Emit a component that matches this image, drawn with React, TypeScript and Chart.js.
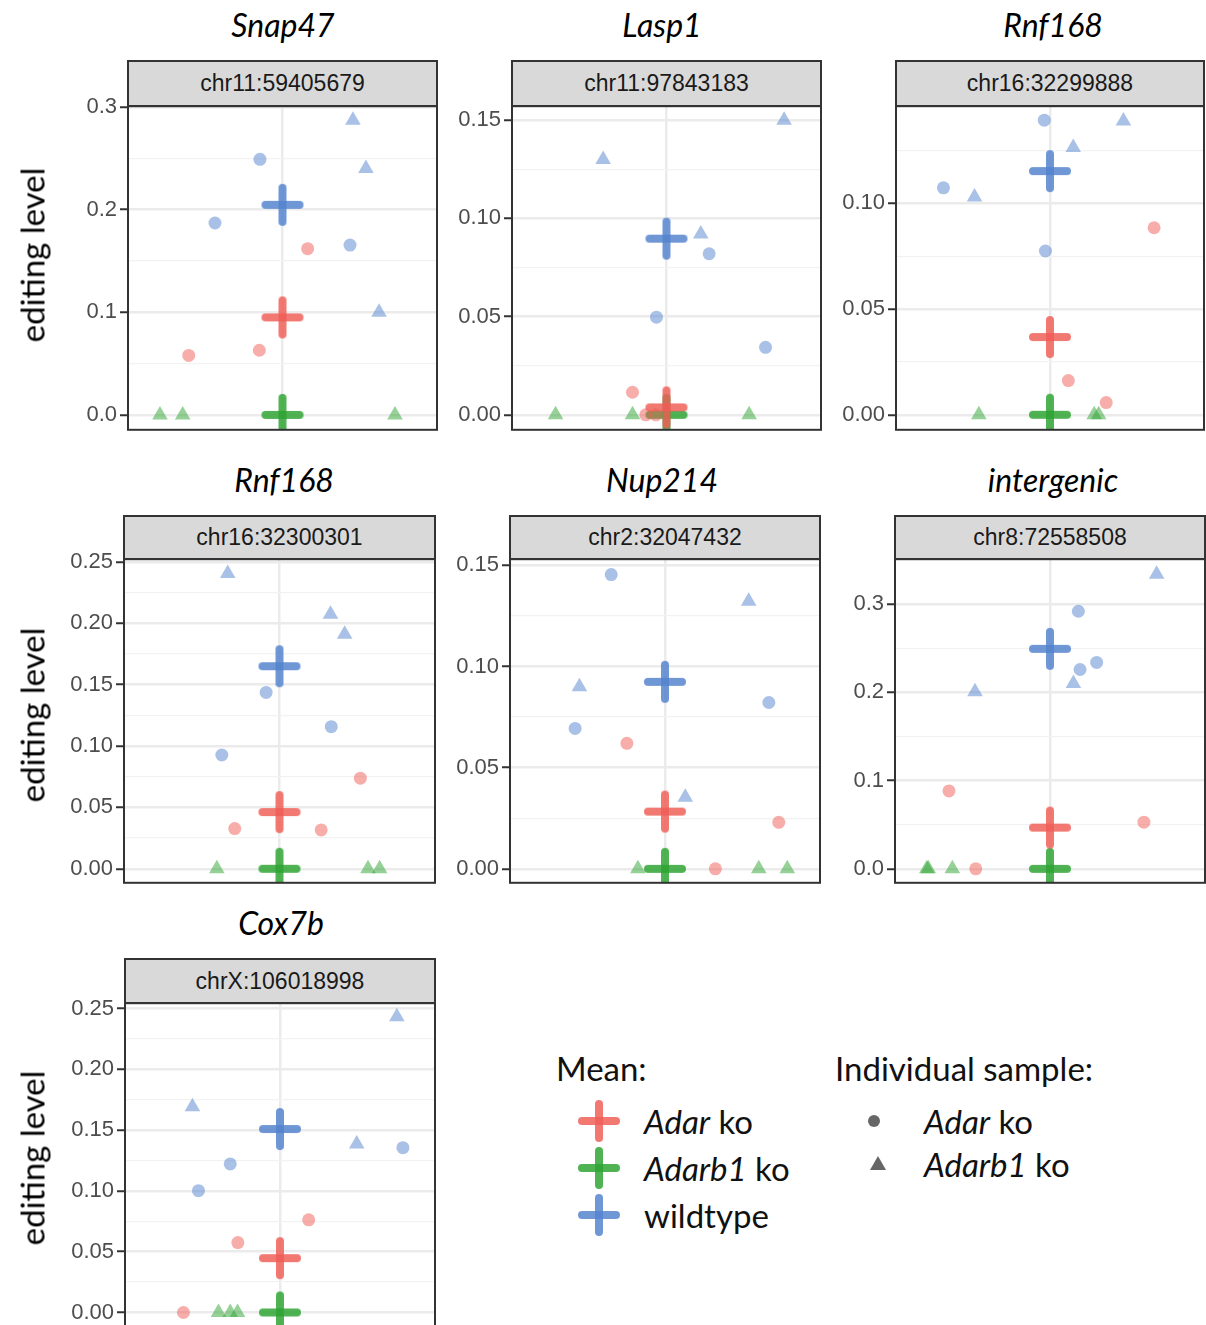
import React, { useEffect, useRef } from "react";
import { Chart, registerables } from "chart.js";

Chart.register(...registerables);

// ---------- data: [jitter position, editing level] ----------
const snap47AdarCircles = [[-0.607, 0.058], [-0.15, 0.063], [0.163, 0.162]];
const snap47WtCircles = [[-0.146, 0.249], [-0.437, 0.187], [0.437, 0.1655]];
const snap47WtTriangles = [[0.456, 0.287], [0.54, 0.24], [0.625, 0.1]];
const snap47Adarb1Triangles = [[-0.793, 0], [-0.646, 0], [0.728, 0]];
const snap47Means = [0.095, 0, 0.2047];

const lasp1AdarCircles = [[-0.22, 0.0115], [-0.134, 0], [-0.069, 0]];
const lasp1WtCircles = [[0.276, 0.082], [-0.065, 0.0497], [0.641, 0.0344]];
const lasp1WtTriangles = [[0.761, 0.15], [-0.41, 0.13], [0.222, 0.092]];
const lasp1Adarb1Triangles = [[-0.718, 0], [-0.22, 0], [0.535, 0]];
const lasp1Means = [0.0038, 0, 0.0897];

const rnf168aAdarCircles = [[0.676, 0.0885], [0.119, 0.0162], [0.365, 0.0058]];
const rnf168aWtCircles = [[-0.037, 0.1394], [-0.692, 0.1074], [-0.03, 0.0775]];
const rnf168aWtTriangles = [[0.477, 0.139], [0.151, 0.1265], [-0.49, 0.1031]];
const rnf168aAdarb1Triangles = [[-0.462, 0], [0.287, 0], [0.316, 0]];
const rnf168aMeans = [0.0368, 0, 0.1153];

const rnf168bAdarCircles = [[0.52, 0.0738], [-0.288, 0.0328], [0.268, 0.0317]];
const rnf168bWtCircles = [[-0.086, 0.1437], [0.333, 0.1158], [-0.371, 0.0927]];
const rnf168bWtTriangles = [[-0.333, 0.2405], [0.328, 0.2074], [0.419, 0.191]];
const rnf168bAdarb1Triangles = [[-0.403, 0], [0.569, 0], [0.644, 0]];
const rnf168bMeans = [0.0462, 0, 0.165];

const nup214AdarCircles = [[-0.246, 0.062], [0.734, 0.023], [0.325, 0]];
const nup214WtCircles = [[-0.347, 0.1454], [0.67, 0.0822], [-0.58, 0.0694]];
const nup214WtTriangles = [[0.54, 0.1322], [-0.552, 0.09], [0.131, 0.0354]];
const nup214Adarb1Triangles = [[-0.175, 0], [0.605, 0], [0.789, 0]];
const nup214Means = [0.0283, 0, 0.0924];

const intergenicAdarCircles = [[-0.652, 0.0883], [0.606, 0.0529], [-0.479, 0]];
const intergenicWtCircles = [[0.183, 0.292], [0.301, 0.234], [0.194, 0.226]];
const intergenicWtTriangles = [[0.688, 0.334], [0.151, 0.21], [-0.484, 0.2007]];
const intergenicAdarb1Triangles = [[-0.795, 0], [-0.785, 0], [-0.63, 0]];
const intergenicMeans = [0.0468, 0, 0.2494];

const cox7bAdarCircles = [[0.185, 0.0762], [-0.272, 0.0575], [-0.623, 0]];
const cox7bWtCircles = [[0.793, 0.1356], [-0.321, 0.1222], [-0.526, 0.1002]];
const cox7bWtTriangles = [[0.754, 0.2432], [-0.565, 0.1692], [0.495, 0.1386]];
const cox7bAdarb1Triangles = [[-0.397, 0], [-0.321, 0], [-0.274, 0]];
const cox7bMeans = [0.0447, 0, 0.1509];

// ---------- axes ----------
const ticks1dec = [0, 0.1, 0.2, 0.3];
const labels1dec = ["0.0", "0.1", "0.2", "0.3"];
const minor1dec = [0.05, 0.15, 0.25];
const ticks015 = [0, 0.05, 0.1, 0.15];
const labels015 = ["0.00", "0.05", "0.10", "0.15"];
const minor015 = [0.025, 0.075, 0.125];
const ticks010 = [0, 0.05, 0.1];
const labels010 = ["0.00", "0.05", "0.10"];
const minor010 = [0.025, 0.075, 0.125];
const ticks025 = [0, 0.05, 0.1, 0.15, 0.2, 0.25];
const labels025 = ["0.00", "0.05", "0.10", "0.15", "0.20", "0.25"];
const minor025 = [0.025, 0.075, 0.125, 0.175, 0.225];

const geneTitles = ["Snap47", "Lasp1", "Rnf168", "Rnf168", "Nup214", "intergenic", "Cox7b"];
const siteLabels = [
  "chr11:59405679", "chr11:97843183", "chr16:32299888",
  "chr16:32300301", "chr2:32047432", "chr8:72558508", "chrX:106018998",
];

const RED = [239, 94, 87];
const GREEN = [45, 163, 50];
const BLUE = [83, 131, 206];
const rgba = (c: number[], a: number) => `rgba(${c[0]},${c[1]},${c[2]},${a})`;

const AXW = 80;
const PAD = 16;
const PADR = 2;

type PanelCfg = {
  title: string; site: string;
  titleX: number; titleY: number;
  left: number; top: number; right: number; bottom: number; stripTop: number;
  yMin: number; yMax: number;
  major: number[]; labels: string[]; minor: number[];
  adar: number[][]; wtC: number[][]; wtT: number[][]; adarb1: number[][]; means: number[];
};

const panels: PanelCfg[] = [
  { title: geneTitles[0], site: siteLabels[0], titleX: 283, titleY: 25, left: 128, top: 106, right: 437, bottom: 430, stripTop: 60,
    yMin: -0.0145, yMax: 0.3008, major: ticks1dec, labels: labels1dec, minor: minor1dec,
    adar: snap47AdarCircles, wtC: snap47WtCircles, wtT: snap47WtTriangles, adarb1: snap47Adarb1Triangles, means: snap47Means },
  { title: geneTitles[1], site: siteLabels[1], titleX: 662, titleY: 25, left: 512, top: 106, right: 821, bottom: 430, stripTop: 60,
    yMin: -0.0076, yMax: 0.1571, major: ticks015, labels: labels015, minor: minor015,
    adar: lasp1AdarCircles, wtC: lasp1WtCircles, wtT: lasp1WtTriangles, adarb1: lasp1Adarb1Triangles, means: lasp1Means },
  { title: geneTitles[2], site: siteLabels[2], titleX: 1053, titleY: 25, left: 896, top: 106, right: 1204, bottom: 430, stripTop: 60,
    yMin: -0.0071, yMax: 0.146, major: ticks010, labels: labels010, minor: minor010,
    adar: rnf168aAdarCircles, wtC: rnf168aWtCircles, wtT: rnf168aWtTriangles, adarb1: rnf168aAdarb1Triangles, means: rnf168aMeans },
  { title: geneTitles[3], site: siteLabels[3], titleX: 284, titleY: 480, left: 124, top: 559, right: 435, bottom: 883, stripTop: 515,
    yMin: -0.0114, yMax: 0.2522, major: ticks025, labels: labels025, minor: minor025,
    adar: rnf168bAdarCircles, wtC: rnf168bWtCircles, wtT: rnf168bWtTriangles, adarb1: rnf168bAdarb1Triangles, means: rnf168bMeans },
  { title: geneTitles[4], site: siteLabels[4], titleX: 662, titleY: 480, left: 510, top: 559, right: 820, bottom: 883, stripTop: 515,
    yMin: -0.0069, yMax: 0.153, major: ticks015, labels: labels015, minor: minor015,
    adar: nup214AdarCircles, wtC: nup214WtCircles, wtT: nup214WtTriangles, adarb1: nup214Adarb1Triangles, means: nup214Means },
  { title: geneTitles[5], site: siteLabels[5], titleX: 1053, titleY: 480, left: 895, top: 559, right: 1205, bottom: 883, stripTop: 515,
    yMin: -0.0158, yMax: 0.351, major: ticks1dec, labels: labels1dec, minor: minor1dec,
    adar: intergenicAdarCircles, wtC: intergenicWtCircles, wtT: intergenicWtTriangles, adarb1: intergenicAdarb1Triangles, means: intergenicMeans },
  { title: geneTitles[6], site: siteLabels[6], titleX: 281, titleY: 923, left: 125, top: 1003, right: 435, bottom: 1328, stripTop: 958,
    yMin: -0.0126, yMax: 0.2544, major: ticks025, labels: labels025, minor: minor025,
    adar: cox7bAdarCircles, wtC: cox7bWtCircles, wtT: cox7bWtTriangles, adarb1: cox7bAdarb1Triangles, means: cox7bMeans },
];

function makeCross(c: number[]) {
  const cv = document.createElement("canvas");
  cv.width = 44; cv.height = 44;
  const ctx = cv.getContext("2d")!;
  ctx.lineCap = "round";
  ctx.lineWidth = 8;
  ctx.strokeStyle = rgba(c, 0.84);
  ctx.beginPath(); ctx.moveTo(5, 22); ctx.lineTo(39, 22); ctx.stroke();
  ctx.beginPath(); ctx.moveTo(22, 5); ctx.lineTo(22, 39); ctx.stroke();
  return cv;
}

const framePlugin = {
  id: "frame",
  afterDraw(chart: any) {
    const { ctx, chartArea: a } = chart;
    ctx.save();
    ctx.strokeStyle = "#333333";
    ctx.lineWidth = 2;
    ctx.strokeRect(a.left, a.top, a.right - a.left, a.bottom - a.top);
    ctx.restore();
  },
};

function Panel({ p }: { p: PanelCfg }) {
  const ref = useRef<HTMLCanvasElement>(null);
  const plotW = p.right - p.left;
  const plotH = p.bottom - p.top;
  const cw = AXW + plotW + PADR;
  const ch = plotH + 2 * PAD;

  useEffect(() => {
    const isMajor = (v: number) => p.major.some((m) => Math.abs(m - v) < 1e-9);
    const allTicks = [...p.major, ...p.minor].sort((a, b) => a - b);
    const toPts = (arr: number[][]) => arr.map((d) => ({ x: d[0], y: d[1] }));
    const pointDs = (arr: number[][], c: number[], style: string, r: number) => ({
      data: toPts(arr), pointStyle: style, pointRadius: r,
      backgroundColor: rgba(c, 0.5), borderWidth: 0, clip: 0,
    });
    const meanDs = (v: number, c: number[]) => ({
      data: [{ x: 0, y: v }], pointStyle: makeCross(c), pointRadius: 20,
      backgroundColor: rgba(c, 0.84), borderWidth: 0, clip: 0,
    });
    const chart = new Chart(ref.current!, {
      type: "scatter",
      data: {
        datasets: [
          pointDs(p.adar, RED, "circle", 6.5),
          pointDs(p.adarb1, GREEN, "triangle", 9),
          pointDs(p.wtC, BLUE, "circle", 6.5),
          pointDs(p.wtT, BLUE, "triangle", 9),
          meanDs(p.means[0], RED),
          meanDs(p.means[1], GREEN),
          meanDs(p.means[2], BLUE),
        ] as any,
      },
      options: {
        animation: false,
        responsive: false,
        events: [],
        layout: { autoPadding: false, padding: { left: 0, right: PADR, top: PAD, bottom: PAD } },
        plugins: { legend: { display: false }, tooltip: { enabled: false } },
        scales: {
          x: {
            type: "linear", min: -1, max: 1,
            afterBuildTicks: (s: any) => { s.ticks = [{ value: 0 }]; },
            afterFit: (s: any) => { s.height = 0; },
            ticks: { display: false },
            grid: { color: "#ebebeb", lineWidth: 2.5, drawTicks: false },
            border: { display: false },
          },
          y: {
            type: "linear", min: p.yMin, max: p.yMax,
            afterBuildTicks: (s: any) => { s.ticks = allTicks.map((v) => ({ value: v })); },
            afterFit: (s: any) => { s.width = AXW; },
            ticks: {
              autoSkip: false, padding: 3, color: "#4d4d4d",
              font: { family: "'Liberation Sans', Arial, sans-serif", size: 22 },
              callback: (v: any) => {
                const i = p.major.findIndex((m) => Math.abs(m - v) < 1e-9);
                return i >= 0 ? p.labels[i] : "";
              },
            },
            grid: {
              color: (c: any) => (isMajor(c.tick.value) ? "#ebebeb" : "#f2f2f2"),
              lineWidth: (c: any) => (isMajor(c.tick.value) ? 2.5 : 1.3),
              tickColor: (c: any) => (isMajor(c.tick.value) ? "#333333" : "rgba(0,0,0,0)"),
              tickWidth: 2,
              tickLength: 8,
              drawTicks: true,
            },
            border: { display: false },
          },
        },
      } as any,
      plugins: [framePlugin],
    });
    return () => chart.destroy();
  }, []);

  return (
    <>
      <div style={{
        position: "absolute", left: p.titleX, top: p.titleY, transform: "translate(-50%,-50%)",
        font: "italic 32px Lato, sans-serif", lineHeight: 1, whiteSpace: "nowrap", color: "#000",
      }}>{p.title}</div>
      <canvas ref={ref} width={cw} height={ch} style={{
        position: "absolute", left: p.left - AXW, top: p.top - PAD, width: cw, height: ch,
      }} />
      <div style={{
        position: "absolute", left: p.left - 1, top: p.stripTop, width: plotW + 2, height: p.top - p.stripTop + 1,
        boxSizing: "border-box", background: "#d9d9d9", border: "2px solid #333333",
        display: "flex", alignItems: "center", justifyContent: "center",
        font: "23px 'Liberation Sans', Arial, sans-serif", color: "#1a1a1a",
      }}>{p.site}</div>
    </>
  );
}

function LegendCross({ cx, cy, c }: { cx: number; cy: number; c: number[] }) {
  const col = rgba(c, 0.84);
  return (
    <>
      <div style={{ position: "absolute", left: cx - 21, top: cy - 4, width: 42, height: 8, borderRadius: 4, background: col }} />
      <div style={{ position: "absolute", left: cx - 4, top: cy - 21, width: 8, height: 42, borderRadius: 4, background: col }} />
    </>
  );
}

const legendFont = "33px Lato, sans-serif";
function LegendText({ x, y, children }: { x: number; y: number; children: any }) {
  return (
    <div style={{
      position: "absolute", left: x, top: y, transform: "translateY(-50%)",
      font: legendFont, lineHeight: 1, whiteSpace: "nowrap", color: "#111",
    }}>{children}</div>
  );
}

const yTitleCenters = [255, 715, 1158];

export default function App() {
  return (
    <div style={{
      position: "absolute", left: 0, top: 0, width: 1206, height: 1325, overflow: "hidden", background: "#fff",
    }}>
      {panels.map((p, i) => <Panel key={i} p={p} />)}
      {yTitleCenters.map((cy, i) => (
        <div key={i} style={{
          position: "absolute", left: 32, top: cy, transform: "translate(-50%,-50%) rotate(-90deg)",
          font: "33px Lato, sans-serif", lineHeight: 1, whiteSpace: "nowrap", color: "#000",
        }}>editing level</div>
      ))}
      <LegendText x={556} y={1068}>Mean:</LegendText>
      <LegendCross cx={599} cy={1121} c={RED} />
      <LegendCross cx={599} cy={1168} c={GREEN} />
      <LegendCross cx={599} cy={1215} c={BLUE} />
      <LegendText x={644} y={1121}><i>Adar</i> ko</LegendText>
      <LegendText x={644} y={1168}><i>Adarb1</i> ko</LegendText>
      <LegendText x={644} y={1215}>wildtype</LegendText>
      <LegendText x={835} y={1068}>Individual sample:</LegendText>
      <div style={{ position: "absolute", left: 874 - 6, top: 1121 - 6, width: 12, height: 12, borderRadius: 6, background: "#666" }} />
      <svg style={{ position: "absolute", left: 869, top: 1155, width: 18, height: 16 }} viewBox="0 0 18 16">
        <polygon points="9,1 17,15 1,15" fill="#666" />
      </svg>
      <LegendText x={924} y={1121}><i>Adar</i> ko</LegendText>
      <LegendText x={924} y={1164}><i>Adarb1</i> ko</LegendText>
    </div>
  );
}
